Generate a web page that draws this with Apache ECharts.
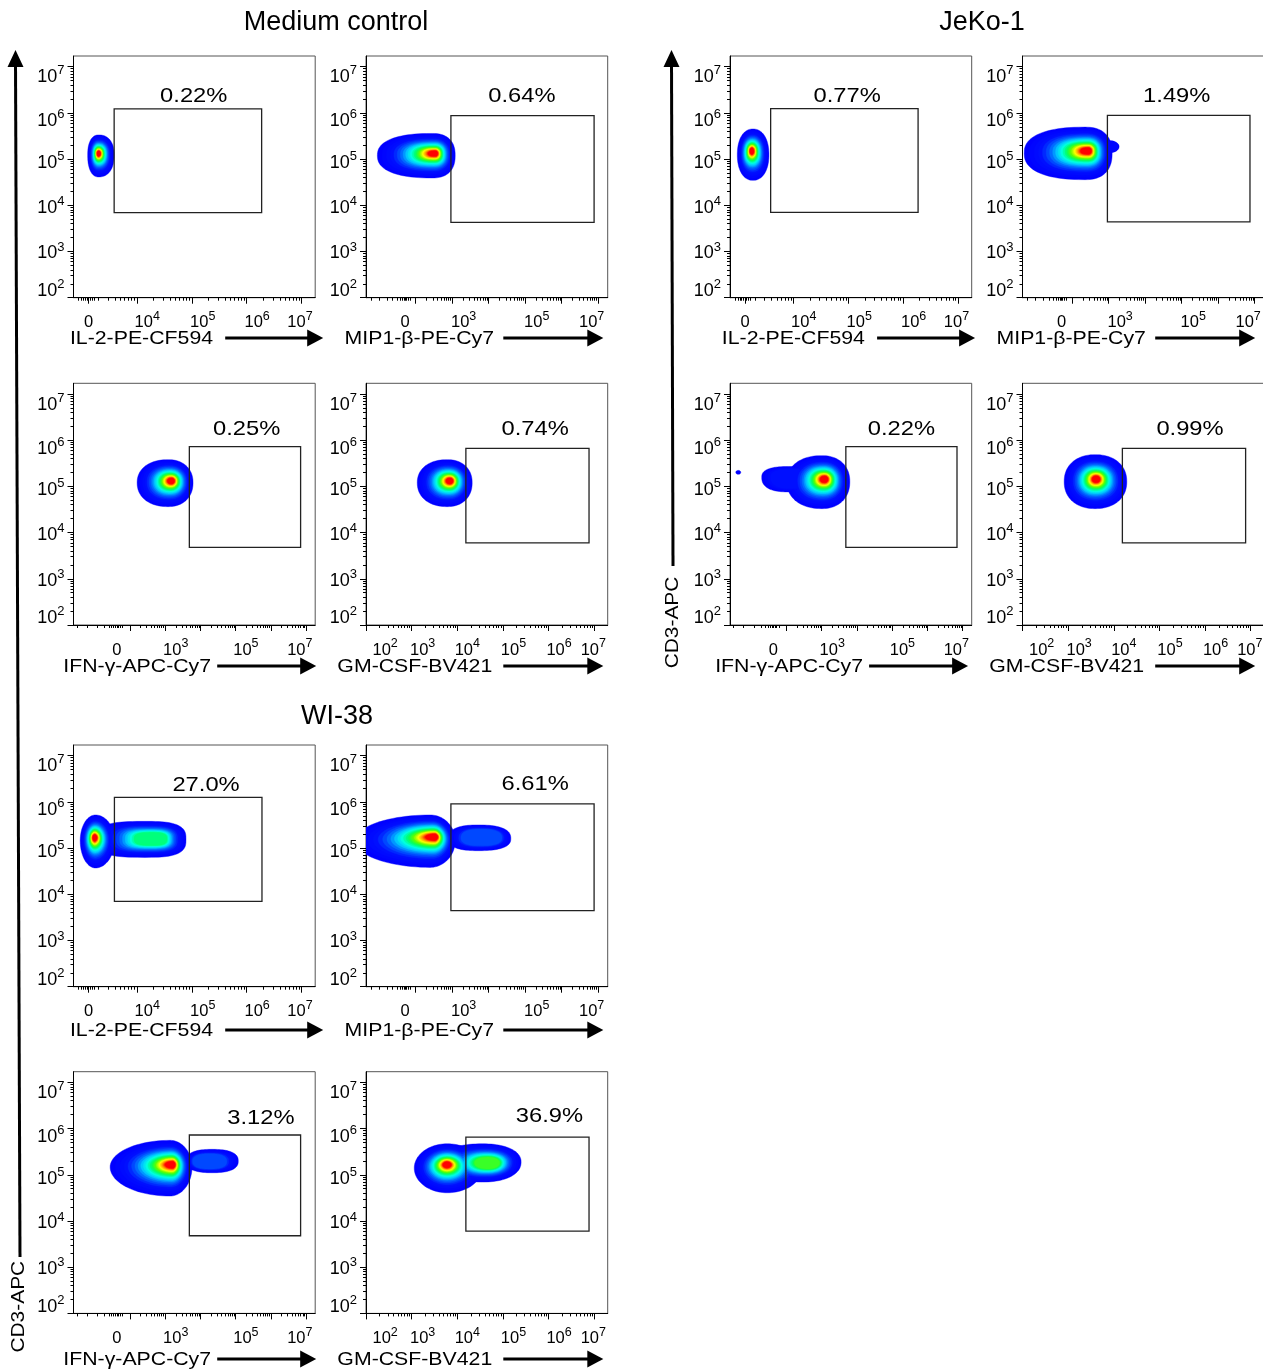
<!DOCTYPE html>
<html><head><meta charset="utf-8">
<script src="https://cdn.jsdelivr.net/npm/echarts@6/dist/echarts.min.js"></script>
<style>html,body{margin:0;padding:0;background:#fff}#c{width:1263px;height:1371px}</style>
</head><body><div id="c"></div>
<script>
// ================= DATA =================
const groupTitles = ['Medium control', 'JeKo-1', 'WI-38'];
const channelNames = ['IL-2-PE-CF594', 'MIP1-β-PE-Cy7', 'IFN-γ-APC-Cy7', 'GM-CSF-BV421'];
const yAxisName = 'CD3-APC';

// x axis ranges per channel (display units, decades)
const xRanges = [[2.847, 7.247], [0.65, 7.26], [0.40, 7.256], [2.0, 7.295]];
const yRange = [2, 7.23];

const xMajorTicks = [[3.12, 4, 5, 6, 7], [2, 3, 4, 5, 6, 7], [2, 3, 4, 5, 6, 7], [2, 3, 4, 5, 6, 7]];
const xZeroTicks = [
  [2.94, 2.99, 3.03, 3.06, 3.09, 3.15, 3.18, 3.22],
  [0.78, 1.0, 1.22, 1.38, 1.5, 1.58, 1.64, 1.69, 1.72, 1.75, 1.8, 1.86],
  [0.5, 0.78, 1.08, 1.28, 1.4, 1.48, 1.54, 1.59, 1.63, 1.67, 1.72, 1.79],
  []
];
const xLogStart = [3, 2, 2, 2];
const xLabelValues = [[3.12, 4.19, 5.20, 6.19, 6.97], [1.72, 3.32, 5.32, 6.82], [1.63, 3.30, 5.29, 6.82], [2.42, 3.24, 4.22, 5.23, 6.23, 6.98]];
const xLabelTexts = [
  ['0', '10^4', '10^5', '10^6', '10^7'],
  ['0', '10^3', '10^5', '10^7'],
  ['0', '10^3', '10^5', '10^7'],
  ['10^2', '10^3', '10^4', '10^5', '10^6', '10^7']
];
const yMajorTicks = [2, 3, 4, 5, 6, 7];
const yLabelValues = [2.19, 3.0, 3.99, 4.96, 5.86, 6.81];
const yLabelTexts = ['10^2', '10^3', '10^4', '10^5', '10^6', '10^7'];

// gate percentages
const mcPercent = ['0.22%', '0.64%', '0.25%', '0.74%'];
const jekoPercent = ['0.77%', '1.49%', '0.22%', '0.99%'];
const wiPercent = ['27.0%', '6.61%', '3.12%', '36.9%'];

// gates [x1, y1, x2, y2]
const mcGates = [[3.587, 3.84, 6.272, 6.084], [2.972, 3.632, 6.888, 5.939], [3.686, 3.68, 6.842, 5.859], [4.188, 3.775, 6.886, 5.823]];
const jekoGates = [[3.587, 3.845, 6.271, 6.09], [2.972, 3.64, 6.871, 5.946], [3.686, 3.68, 6.839, 5.859], [4.188, 3.775, 6.888, 5.823]];
const wiGates = [[3.592, 3.846, 6.278, 6.097], [2.972, 3.645, 6.888, 5.955], [3.686, 3.68, 6.842, 5.86], [4.188, 3.78, 6.886, 5.816]];
// percentage label anchors [x, y]
const mcLabelPos = [[5.036, 6.351], [4.912, 6.351], [5.312, 6.242], [5.705, 6.242]];
const jekoLabelPos = [[4.98, 6.36], [4.868, 6.36], [5.264, 6.242], [5.67, 6.242]];
const wiLabelPos = [[5.26, 6.35], [5.276, 6.387], [5.717, 6.234], [6.018, 6.27]];

// density populations: [cx, cy, rxLeft, rxRight, ryTop, ryBottom, peakX, peakY, maxLevel, shapeExp]
const mcBlobs = [
  [[3.305, 5.089, 0.2, 0.282, 0.433, 0.476, 3.302, 5.125, 1, 2.3]],
  [[2.461, 5.078, 1.5, 0.628, 0.476, 0.487, 2.543, 5.125, 1, 2.4]],
  [[3.083, 5.08, 0.878, 0.708, 0.498, 0.519, 3.188, 5.123, 1, 2.2]],
  [[3.779, 5.08, 0.656, 0.547, 0.498, 0.519, 3.845, 5.123, 1, 2.2]]
];
const jekoBlobs = [
  [[3.265, 5.095, 0.285, 0.291, 0.556, 0.556, 3.242, 5.182, 1, 2.2]],
  [[2.363, 5.128, 1.667, 0.738, 0.563, 0.574, 2.453, 5.182, 1, 2.4], [3.046, 5.268, 0.246, 0.246, 0.13, 0.13, 3.046, 5.268, 0.04, 2]],
  [[3.006, 5.102, 0.992, 0.793, 0.563, 0.584, 3.091, 5.16, 1, 2.2], [2.05, 5.2, 0.75, 0.8, 0.23, 0.32, 2.4, 5.2, 0.15, 2.5], [0.635, 5.303, 0.071, 0.071, 0.043, 0.043, 0.635, 5.303, 0, 2]],
  [[3.591, 5.102, 0.678, 0.694, 0.584, 0.584, 3.613, 5.16, 1, 2.2]]
];
const wiBlobs = [
  [[3.247, 5.16, 0.278, 0.345, 0.556, 0.591, 3.229, 5.232, 1, 2], [4.15, 5.188, 0.9, 0.745, 0.39, 0.39, 4.351, 5.203, 0.48, 3]],
  [[2.407, 5.16, 2.049, 0.683, 0.556, 0.578, 2.543, 5.247, 1, 2], [3.718, 5.203, 0.82, 0.893, 0.297, 0.26, 3.909, 5.247, 0.2, 2.5]],
  [[3.139, 5.167, 1.7, 0.623, 0.578, 0.628, 3.216, 5.225, 1, 2], [4.329, 5.297, 0.737, 0.745, 0.253, 0.253, 4.131, 5.275, 0.22, 2.5]],
  [[3.779, 5.145, 0.722, 0.766, 0.526, 0.535, 3.772, 5.225, 1, 2], [4.55, 5.275, 0.95, 0.848, 0.396, 0.433, 4.72, 5.253, 0.56, 2.2]]
];

// ================= STYLE / LAYOUT =================
const FONT = '"Liberation Sans", Arial, Helvetica, sans-serif';
const NLEV = 26;
const SHRINK = 2.1;
const colorStops = [[0, '#0000ff'], [0.13, '#0010ff'], [0.23, '#0060ff'], [0.33, '#00d0ff'], [0.4, '#00ffe0'],
  [0.5, '#00ff60'], [0.6, '#60ff00'], [0.72, '#ffff00'], [0.85, '#ff9000'], [1, '#ff0000']];
const colLefts = [73.5, 366, 730, 1022.5];
const rowTops = [56, 383.3, 745, 1071.7];
const PW = 241.7, PH = 241.7;
const rowTextY = [339, 667, 1031, 1360];
const groupShift = [0, -4.6, 0];
const titleOffset = [68, 53.3, 63.7, 48.8];
const arrowStart = [151.7, 137.3, 143.7, 137.3];
const arrowTip = [249.7, 237.3, 242.7, 237.3];

function hexToRgb(h) { return [parseInt(h.slice(1, 3), 16), parseInt(h.slice(3, 5), 16), parseInt(h.slice(5, 7), 16)]; }
function levelColor(t) {
  for (let i = 1; i < colorStops.length; i++) {
    if (t <= colorStops[i][0] + 1e-9) {
      const t0 = colorStops[i - 1][0], t1 = colorStops[i][0];
      const a = hexToRgb(colorStops[i - 1][1]), b = hexToRgb(colorStops[i][1]);
      const f = (t - t0) / (t1 - t0);
      return 'rgb(' + a.map((v, j) => Math.round(v + (b[j] - v) * f)).join(',') + ')';
    }
  }
  return colorStops[colorStops.length - 1][1];
}
function richText(s) {
  const p = s.split('^');
  return p.length > 1 ? '{b|' + p[0] + '}{s|' + p[1] + '}' : '{b|' + p[0] + '}';
}
function makeFormatter(vals, texts) {
  return function (v) {
    let best = 0, bd = 1e9;
    vals.forEach((x, i) => { const d = Math.abs(x - v); if (d < bd) { bd = d; best = i; } });
    return richText(texts[best]);
  };
}
function logMinors(start, max) {
  const out = [];
  for (let d = start; d <= 7; d++) for (let m = 2; m <= 9; m++) {
    const v = d + Math.log10(m);
    if (v < max) out.push(v);
  }
  return out;
}
function makeBlobRenderer(comps) {
  return function (params, api) {
    const c = comps[api.value(2)];
    const t = api.value(3) / (NLEV - 1);
    const s = Math.exp(-SHRINK * t);
    const e = 2 / (c[9] || 2);
    const pts = [];
    for (let k = 0; k < 96; k++) {
      const a = k / 96 * 2 * Math.PI, ca = Math.cos(a), sa = Math.sin(a);
      const ux = Math.sign(ca) * Math.pow(Math.abs(ca), e), uy = Math.sign(sa) * Math.pow(Math.abs(sa), e);
      const ox = c[0] + ux * (ca >= 0 ? c[3] : c[2]);
      const oy = c[1] + uy * (sa >= 0 ? c[4] : c[5]);
      pts.push(api.coord([c[6] + s * (ox - c[6]), c[7] + s * (oy - c[7])]));
    }
    const col = levelColor(t);
    return { type: 'polygon', shape: { points: pts }, style: { fill: col, stroke: col, lineWidth: 0.4 } };
  };
}
function makeGateRenderer(label) {
  return function (params, api) {
    const p1 = api.coord([api.value(0), api.value(1)]);
    const p2 = api.coord([api.value(2), api.value(3)]);
    const lp = api.coord([api.value(4), api.value(5)]);
    return {
      type: 'group', children: [
        { type: 'rect', shape: { x: Math.min(p1[0], p2[0]), y: Math.min(p1[1], p2[1]), width: Math.abs(p2[0] - p1[0]), height: Math.abs(p2[1] - p1[1]) },
          style: { fill: 'none', stroke: '#222', lineWidth: 1.3 } },
        { type: 'text', x: lp[0], y: lp[1], scaleX: 1.13,
          style: { text: label, fontSize: 21, fontFamily: FONT, fill: '#000', align: 'center', verticalAlign: 'middle' } }
      ]
    };
  };
}

const groups = [
  { col: 0, row: 0, title: groupTitles[0], gates: mcGates, labelPos: mcLabelPos, pct: mcPercent, blobs: mcBlobs, tx: 336, ty: 23 },
  { col: 2, row: 0, title: groupTitles[1], gates: jekoGates, labelPos: jekoLabelPos, pct: jekoPercent, blobs: jekoBlobs, tx: 982, ty: 23 },
  { col: 0, row: 2, title: groupTitles[2], gates: wiGates, labelPos: wiLabelPos, pct: wiPercent, blobs: wiBlobs, tx: 337, ty: 717 }
];

const xRich = {
  b: { fontSize: 16.5, lineHeight: 16, padding: [6, 0, 0, 0], fontFamily: FONT, color: '#000' },
  s: { fontSize: 12.5, lineHeight: 12, padding: [2, 0, 8, 0], fontFamily: FONT, color: '#000' }
};
const yRich = {
  b: { fontSize: 18, lineHeight: 18, padding: [4, 0, 0, 0], fontFamily: FONT, color: '#000' },
  s: { fontSize: 13, lineHeight: 13, padding: [0, 0, 9, 0], fontFamily: FONT, color: '#000' }
};

const grids = [], xAxes = [], yAxes = [], series = [], graphics = [];
let pi = 0;
groups.forEach((g, gi) => {
  graphics.push({ type: 'text', x: g.tx, y: g.ty, style: { text: g.title, fontSize: 27, fontFamily: FONT, fill: '#000', align: 'center', verticalAlign: 'middle' } });
  for (let k = 0; k < 4; k++) {
    const col = g.col + (k % 2), row = g.row + Math.floor(k / 2);
    const L = colLefts[col], T = rowTops[row];
    grids.push({ left: L, top: T, width: PW, height: PH, show: true, borderColor: '#555', borderWidth: 1, containLabel: false, outerBoundsMode: 'none' });
    const xr = xRanges[k];
    xAxes.push({
      type: 'value', gridIndex: pi, position: 'bottom', min: xr[0], max: xr[1],
      axisLine: { show: true, onZero: false, lineStyle: { color: '#000', width: 1 } },
      splitLine: { show: false },
      axisTick: { show: true, customValues: xMajorTicks[k], length: 6, lineStyle: { color: '#000', width: 1 } },
      axisLabel: { show: true, customValues: xLabelValues[k], margin: 14, formatter: makeFormatter(xLabelValues[k], xLabelTexts[k]), rich: xRich }
    });
    xAxes.push({
      type: 'value', gridIndex: pi, position: 'bottom', min: xr[0], max: xr[1],
      axisLine: { show: false }, splitLine: { show: false }, axisLabel: { show: false },
      axisTick: { show: true, customValues: xZeroTicks[k].concat(logMinors(xLogStart[k], xr[1])), length: 3, lineStyle: { color: '#000', width: 1 } }
    });
    yAxes.push({
      type: 'value', gridIndex: pi, position: 'left', min: yRange[0], max: yRange[1],
      axisLine: { show: true, onZero: false, lineStyle: { color: '#000', width: 1 } },
      splitLine: { show: false },
      axisTick: { show: true, customValues: yMajorTicks, length: 6, lineStyle: { color: '#000', width: 1 } },
      axisLabel: { show: true, customValues: yLabelValues, margin: 9, formatter: makeFormatter(yLabelValues, yLabelTexts), rich: yRich }
    });
    yAxes.push({
      type: 'value', gridIndex: pi, position: 'left', min: yRange[0], max: yRange[1],
      axisLine: { show: false }, splitLine: { show: false }, axisLabel: { show: false },
      axisTick: { show: true, customValues: logMinors(2, yRange[1]), length: 3, lineStyle: { color: '#000', width: 1 } }
    });
    // density populations
    const comps = g.blobs[k];
    const bdata = [];
    for (let li = 0; li < NLEV; li++) {
      const t = li / (NLEV - 1);
      comps.forEach((c, ci) => { if (t <= c[8] + 1e-6) bdata.push([c[6], c[7], ci, li]); });
    }
    series.push({ type: 'custom', xAxisIndex: 2 * pi, yAxisIndex: 2 * pi, clip: true, silent: true, encode: { x: 0, y: 1 }, data: bdata, renderItem: makeBlobRenderer(comps) });
    // gate + percentage
    series.push({ type: 'custom', xAxisIndex: 2 * pi, yAxisIndex: 2 * pi, clip: false, silent: true, encode: { x: [0, 2], y: [1, 3] },
      data: [g.gates[k].concat(g.labelPos[k])], renderItem: makeGateRenderer(g.pct[k]) });
    // axis title + arrow
    const ty = rowTextY[row], sh = groupShift[gi];
    graphics.push({ type: 'text', x: L + titleOffset[k] + sh, y: ty, scaleX: 1.12,
      style: { text: channelNames[k], fontSize: 19, fontFamily: FONT, fill: '#000', align: 'center', verticalAlign: 'middle' } });
    const ax1 = L + arrowStart[k] + sh, ax2 = L + arrowTip[k] + sh, ay = ty - 1;
    graphics.push({ type: 'line', shape: { x1: ax1, y1: ay, x2: ax2 - 12, y2: ay }, style: { stroke: '#000', lineWidth: 3 } });
    graphics.push({ type: 'polygon', shape: { points: [[ax2, ay], [ax2 - 16, ay - 8.5], [ax2 - 16, ay + 8.5]] }, style: { fill: '#000' } });
    pi++;
  }
});
// vertical CD3-APC arrows
[[15.5, 50, 20, 1257, 19, 1306.7], [671.5, 50, 673, 566, 672.5, 622.5]].forEach(a => {
  graphics.push({ type: 'line', shape: { x1: a[2], y1: a[3], x2: a[0], y2: a[1] + 12 }, style: { stroke: '#000', lineWidth: 3 } });
  graphics.push({ type: 'polygon', shape: { points: [[a[0], a[1]], [a[0] - 8, a[1] + 17], [a[0] + 8, a[1] + 17]] }, style: { fill: '#000' } });
  graphics.push({ type: 'text', x: a[4], y: a[5], rotation: Math.PI / 2, scaleX: 1.1,
    style: { text: yAxisName, fontSize: 19, fontFamily: FONT, fill: '#000', align: 'center', verticalAlign: 'middle' } });
});

const chart = echarts.init(document.getElementById('c'), null, { renderer: 'canvas' });
chart.setOption({
  animation: false,
  backgroundColor: '#fff',
  textStyle: { fontFamily: FONT },
  grid: grids, xAxis: xAxes, yAxis: yAxes, series: series,
  graphic: { elements: graphics }
});
</script>
</body></html>
